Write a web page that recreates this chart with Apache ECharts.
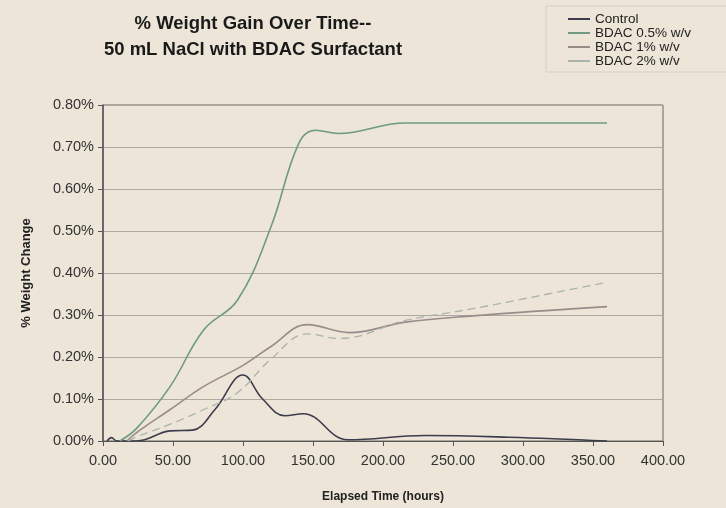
<!DOCTYPE html>
<html>
<head>
<meta charset="utf-8">
<script src="https://cdn.jsdelivr.net/npm/echarts@6/dist/echarts.min.js"></script>
<style>
html,body{margin:0;padding:0;background:#ece5d8;}
#chart{width:726px;height:508px;}
</style>
</head>
<body>
<div id="chart"></div>
<script>
// Elapsed time (hours) / % weight change pairs
const controlData = [[3,0],[6,0.008],[10,0],[24,0],[48,0.024],[64,0.026],[80,0.075],[100,0.157],[114,0.10],[130,0.06],[143,0.065],[175,0.003],[230,0.013],[290,0.009],[360,0]];
const bdac05Data = [[12,0],[24,0.03],[48,0.13],[72,0.265],[96,0.335],[120,0.51],[140,0.71],[152,0.74],[168,0.732],[216,0.757],[360,0.757]];
const bdac1Data = [[17,0],[24,0.02],[48,0.075],[72,0.13],[100,0.18],[120,0.225],[146,0.277],[176,0.258],[216,0.283],[264,0.298],[360,0.32]];
const bdac2Data = [[18,0],[24,0.01],[48,0.04],[72,0.075],[96,0.115],[120,0.195],[146,0.255],[169,0.244],[216,0.287],[264,0.315],[360,0.378]];
const seriesNames = ['Control','BDAC 0.5% w/v','BDAC 1% w/v','BDAC 2% w/v'];
const titleLines = ['% Weight Gain Over Time--','50 mL NaCl with BDAC Surfactant'];
const xAxisTitle = 'Elapsed Time (hours)';
const yAxisTitle = '% Weight Change';

const chart = echarts.init(document.getElementById('chart'));
const font = 'Liberation Sans, Arial, sans-serif';
function mk(name, data, color, width, type){
  return {name:name,type:'line',data:data,smooth:0.4,symbol:'none',
    lineStyle:{color:color,width:width,type:type},itemStyle:{color:color}};
}
chart.setOption({
  backgroundColor:'#ece5d8',
  animation:false,
  title:{text:titleLines.join('\n'),left:248,top:6,textAlign:'center',
    textStyle:{fontFamily:font,fontSize:18.5,fontWeight:'bold',color:'#1a1a1a',lineHeight:26}},
  legend:{orient:'vertical',left:546,top:6,width:170,padding:[6,40,4,22],itemWidth:22,itemHeight:2,itemGap:0,
    borderColor:'#d6d0c4',borderWidth:1,
    textStyle:{fontFamily:font,fontSize:13.5,color:'#222',lineHeight:14},
    data:seriesNames.map(n=>({name:n,icon:'rect'}))},
  grid:{left:103,right:63,top:105,bottom:65,show:true,borderColor:'#6b6660',borderWidth:1,backgroundColor:'transparent'},
  xAxis:{type:'value',min:0,max:400,interval:50,
    name:xAxisTitle,nameLocation:'middle',nameGap:50,
    nameTextStyle:{fontFamily:font,fontSize:12,fontWeight:'bold',color:'#222'},
    axisLine:{show:true,lineStyle:{color:'#555',width:1}},
    axisTick:{show:true,inside:false,length:5,lineStyle:{color:'#555'}},
    axisLabel:{fontFamily:font,fontSize:14.5,color:'#333',margin:12,formatter:v=>v.toFixed(2)},
    splitLine:{show:false}},
  yAxis:{type:'value',min:0,max:0.8,interval:0.1,
    name:yAxisTitle,nameLocation:'middle',nameGap:70,nameRotate:90,
    nameTextStyle:{fontFamily:font,fontSize:13,fontWeight:'bold',color:'#222'},
    axisLine:{show:true,lineStyle:{color:'#555',width:1.5}},
    axisTick:{show:true,inside:false,length:5,lineStyle:{color:'#555'}},
    axisLabel:{fontFamily:font,fontSize:14.5,color:'#333',margin:9,formatter:v=>v.toFixed(2)+'%'},
    splitLine:{show:true,lineStyle:{color:'#aeaaa1',width:1}}},
  series:[
    mk(seriesNames[0],controlData,'#3c3c4c',1.6,'solid'),
    mk(seriesNames[1],bdac05Data,'#6e9a84',1.6,'solid'),
    mk(seriesNames[2],bdac1Data,'#9a8c8a',1.6,'solid'),
    mk(seriesNames[3],bdac2Data,'#aab4ac',1.3,[8,5])
  ]
});
</script>
</body>
</html>
